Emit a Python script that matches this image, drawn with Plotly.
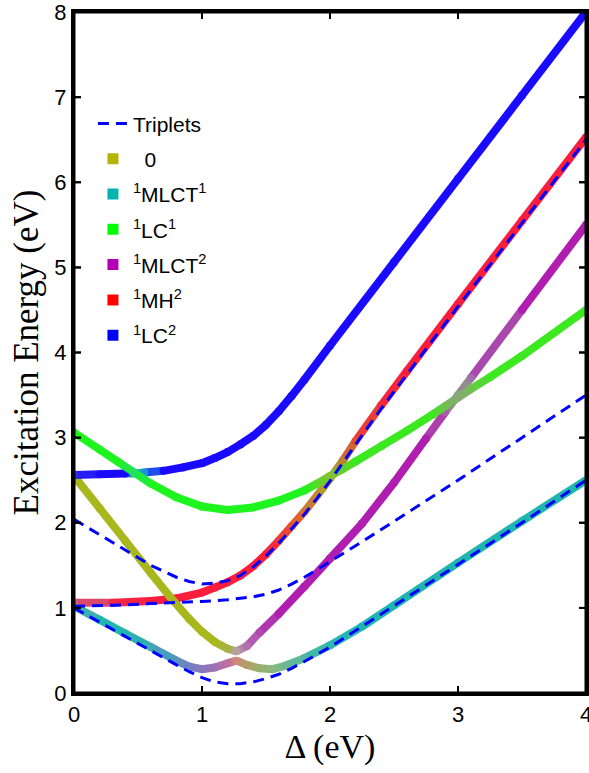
import plotly.graph_objects as go

# ---------------- DATA ----------------
# Singlet adiabatic curves (x = Delta in eV, y = excitation energy in eV)
s1_x = [0, 0.2, 0.4, 0.6, 0.8, 0.9, 1.0, 1.1, 1.2, 1.27, 1.35, 1.45, 1.55, 1.65, 1.8, 2.0, 2.25, 2.5, 3.0, 3.5, 4.0]
s1_y = [1.02, 0.86, 0.70, 0.54, 0.38, 0.31, 0.28, 0.30, 0.35, 0.38, 0.33, 0.29, 0.28, 0.32, 0.41, 0.56, 0.78, 1.03, 1.53, 2.02, 2.50]

s2_x = [0, 0.2, 0.4, 0.6, 0.75, 0.9, 1.0, 1.1, 1.2, 1.27, 1.35, 1.45, 1.6, 1.8, 2.0, 2.25, 2.5, 2.75, 2.9, 3.0, 3.1, 3.5, 4.0]
s2_y = [2.55, 2.17, 1.79, 1.41, 1.13, 0.87, 0.72, 0.60, 0.52, 0.49, 0.55, 0.71, 0.93, 1.25, 1.58, 1.99, 2.47, 2.99, 3.30, 3.50, 3.70, 4.50, 5.50]

s3_x = [0, 0.3, 0.6, 0.8, 1.0, 1.1, 1.2, 1.3, 1.4, 1.5, 1.6, 1.7, 1.8, 1.9, 2.0, 2.1, 2.2, 2.4, 2.6, 3.0, 3.5, 4.0]
s3_y = [1.06, 1.06, 1.08, 1.11, 1.18, 1.24, 1.30, 1.38, 1.49, 1.63, 1.79, 1.96, 2.13, 2.32, 2.52, 2.73, 2.96, 3.38, 3.78, 4.57, 5.55, 6.53]

s4_x = [0, 0.2, 0.35, 0.47, 0.6, 0.8, 1.0, 1.2, 1.4, 1.6, 1.8, 1.9, 2.0, 2.1, 2.2, 2.4, 2.6, 2.8, 2.9, 3.0, 3.1, 3.25, 3.5, 4.0]
s4_y = [3.06, 2.86, 2.71, 2.59, 2.46, 2.30, 2.19, 2.15, 2.18, 2.26, 2.38, 2.46, 2.55, 2.63, 2.72, 2.90, 3.08, 3.27, 3.37, 3.47, 3.57, 3.71, 3.96, 4.50]

s5_x = [0, 0.2, 0.4, 0.47, 0.55, 0.7, 0.85, 1.0, 1.1, 1.2, 1.3, 1.4, 1.5, 1.6, 1.7, 1.8, 2.0, 2.5, 3.0, 3.5, 4.0]
s5_y = [2.56, 2.57, 2.58, 2.58, 2.59, 2.61, 2.65, 2.70, 2.76, 2.83, 2.92, 3.02, 3.15, 3.31, 3.49, 3.68, 4.08, 5.06, 6.04, 7.02, 8.00]

# Triplet curves
t1_x = [0, 0.2, 0.4, 0.6, 0.8, 0.9, 1.0, 1.1, 1.2, 1.3, 1.4, 1.5, 1.6, 1.7, 1.8, 2.0, 2.5, 3.0, 3.5, 4.0]
t1_y = [1.00, 0.83, 0.66, 0.49, 0.33, 0.25, 0.18, 0.13, 0.11, 0.11, 0.13, 0.17, 0.22, 0.29, 0.37, 0.54, 1.02, 1.51, 2.00, 2.50]

t2_x = [0, 0.2, 0.4, 0.6, 0.8, 0.9, 1.0, 1.1, 1.2, 1.3, 1.4, 1.5, 1.6, 1.7, 1.8, 1.9, 2.0, 2.2, 2.4, 2.6, 3.0, 3.5, 4.0]
t2_y = [2.04, 1.86, 1.68, 1.50, 1.36, 1.31, 1.28, 1.29, 1.32, 1.38, 1.48, 1.61, 1.76, 1.93, 2.10, 2.29, 2.49, 2.92, 3.34, 3.74, 4.54, 5.52, 6.50]

t3_x = [0, 0.3, 0.6, 0.8, 1.0, 1.2, 1.4, 1.5, 1.6, 1.7, 1.8, 1.9, 2.0, 2.2, 2.4, 2.6, 2.8, 3.0, 3.5, 4.0]
t3_y = [1.02, 1.03, 1.05, 1.06, 1.075, 1.095, 1.13, 1.16, 1.21, 1.28, 1.36, 1.45, 1.54, 1.73, 1.92, 2.11, 2.30, 2.50, 3.00, 3.50]

# Legend entries (character of the states)
state_names = ["\u00a0\u00a00", "<sup>1</sup>MLCT<sup>1</sup>", "<sup>1</sup>LC<sup>1</sup>",
               "<sup>1</sup>MLCT<sup>2</sup>", "<sup>1</sup>MH<sup>2</sup>", "<sup>1</sup>LC<sup>2</sup>"]
triplet_name = "Triplets"

x_range = [0, 4]
y_range = [0, 8]
x_ticks = [0, 1, 2, 3, 4]
y_ticks = [0, 1, 2, 3, 4, 5, 6, 7, 8]

# ---------------- STYLE ----------------
state_colors = ["#b4b400", "#00b4b4", "#00ff00", "#b400b4", "#ff0000", "#0000ff"]

TEAL = "#20b6b0"
OLIVE = "#a8b81c"
PURPLE = "#b01eb0"
RED = "#fa1e3c"
GREEN_L = "#1ef41e"
GREEN_R = "#3ce820"
BLUE = "#1a0aff"

s1_c = ["#58a8b0", TEAL, TEAL, "#3caab4", "#5890c0", "#7080c0", "#8878bc", "#a070b4", "#c070a0", "#d08878",
        "#b0a068", "#98b070", "#88b880", "#70b890", "#50b8a0", "#30b8b0", TEAL, TEAL, TEAL, TEAL, TEAL]
s2_c = [OLIVE, OLIVE, OLIVE, OLIVE, OLIVE, OLIVE, OLIVE, OLIVE, "#a8b048", "#b8a0a0", "#b070b0", "#b048b0",
        PURPLE, PURPLE, PURPLE, PURPLE, PURPLE, PURPLE, "#a860a8", "#8aa878", "#a070a8", PURPLE, PURPLE]
s3_c = ["#c86890", "#f02848", RED, RED, RED, RED, RED, RED, RED, RED, "#f03838", "#e85030", "#d87030",
        "#c08c30", "#a8a830", "#c08030", "#e05030", "#f52a3a", RED, RED, RED, RED]
s4_c = [GREEN_L, GREEN_L, GREEN_L, "#20e060", GREEN_L, GREEN_L, GREEN_L, GREEN_L, GREEN_L, GREEN_L, GREEN_L,
        "#58d828", "#88c030", "#60d028", GREEN_R, GREEN_R, GREEN_R, GREEN_R, "#70c050", "#8aa878", "#70c050",
        GREEN_R, GREEN_R, GREEN_R]
s5_c = ["#3030e8", BLUE, BLUE, "#20d880", "#2090e0", BLUE, BLUE, BLUE, BLUE, BLUE, BLUE, BLUE, BLUE, BLUE,
        BLUE, BLUE, BLUE, BLUE, BLUE, BLUE, BLUE]

W, H = 589, 773
M_L, M_R, M_T, M_B = 74, 3, 12, 80
STROKE_W = 8
FRAME_W = 3
TICK_LEN = 7  # px


def mix(c1, c2):
    a = [int(c1[i:i + 2], 16) for i in (1, 3, 5)]
    b = [int(c2[i:i + 2], 16) for i in (1, 3, 5)]
    return "#%02x%02x%02x" % tuple((p + q) // 2 for p, q in zip(a, b))


fig = go.Figure()


def add_stroke(xs, ys, cols):
    for i in range(len(xs) - 1):
        fig.add_trace(go.Scatter(x=xs[i:i + 2], y=ys[i:i + 2], mode="lines",
                                 line=dict(color=mix(cols[i], cols[i + 1]), width=STROKE_W),
                                 showlegend=False, hoverinfo="skip"))
    fig.add_trace(go.Scatter(x=xs, y=ys, mode="markers",
                             marker=dict(color=cols, size=STROKE_W, line=dict(width=0)),
                             showlegend=False, hoverinfo="skip"))


add_stroke(s1_x, s1_y, s1_c)
add_stroke(s3_x, s3_y, s3_c)
add_stroke(s2_x, s2_y, s2_c)
add_stroke(s5_x, s5_y, s5_c)
add_stroke(s4_x, s4_y, s4_c)

for k, (tx, ty) in enumerate([(t1_x, t1_y), (t2_x, t2_y), (t3_x, t3_y)]):
    fig.add_trace(go.Scatter(x=tx, y=ty, mode="lines", name=triplet_name,
                             line=dict(color="#0000ff", width=3, dash="11px,7px"),
                             showlegend=(k == 0), legendrank=1, legendgroup="trip",
                             hoverinfo="skip"))

for k, (nm, col) in enumerate(zip(state_names, state_colors)):
    fig.add_trace(go.Scatter(x=[None], y=[None], mode="markers", name=nm,
                             marker=dict(symbol="square", size=11, color=col),
                             legendrank=k + 2, legendgroup="g%d" % k))

# ---- box frame and inward ticks on all four sides (layout shapes tied to the axes) ----
line_style = dict(color="#000000", width=2)
shapes = [dict(type="rect", xref="paper", yref="paper", x0=0, x1=1, y0=0, y1=1,
               line=dict(color="#000000", width=FRAME_W), fillcolor="rgba(0,0,0,0)",
               opacity=1, layer="above")]
for v in x_ticks:
    for anchor, sgn in ((0, 1), (1, -1)):
        shapes.append(dict(type="line", xref="x", yref="paper", ysizemode="pixel", yanchor=anchor,
                           x0=v, x1=v, y0=0, y1=sgn * TICK_LEN, line=line_style,
                           opacity=1, layer="above"))
for v in y_ticks:
    for anchor, sgn in ((0, 1), (1, -1)):
        shapes.append(dict(type="line", yref="y", xref="paper", xsizemode="pixel", xanchor=anchor,
                           y0=v, y1=v, x0=0, x1=sgn * TICK_LEN, line=line_style,
                           opacity=1, layer="above"))

axis_common = dict(showline=True, linewidth=FRAME_W, linecolor="#000000", mirror="ticks",
                   ticks="inside", ticklen=TICK_LEN, tickwidth=2, tickcolor="#000000",
                   showgrid=False, zeroline=False, ticklabeloverflow="allow", automargin=False,
                   tickfont=dict(family="Liberation Sans, Arial", size=22, color="black"))

fig.update_layout(
    template="simple_white",
    width=W, height=H,
    margin=dict(l=M_L, r=M_R, t=M_T, b=M_B),
    paper_bgcolor="white", plot_bgcolor="white",
    shapes=shapes,
    xaxis=dict(range=x_range, tickvals=x_ticks,
               title=dict(text="\u0394 (eV)", font=dict(family="Liberation Serif, Times New Roman", size=34, color="black"),
                          standoff=8),
               **axis_common),
    yaxis=dict(range=y_range, tickvals=y_ticks,
               title=dict(text="Excitation Energy (eV)", font=dict(family="Liberation Serif, Times New Roman", size=35, color="black"),
                          standoff=6),
               **axis_common),
    legend=dict(x=0.037, y=0.866, xanchor="left", yanchor="top", bgcolor="rgba(0,0,0,0)",
                borderwidth=0, tracegroupgap=5,
                font=dict(family="Liberation Sans, Arial", size=21, color="black")),
    showlegend=True,
)

css_fix = (
    "document.body.style.margin='0';document.body.style.padding='0';"
    "var st=document.createElement('style');"
    "st.textContent='.js-plotly-plot .plotly .crisp{shape-rendering:auto !important;}';"
    "document.head.appendChild(st);"
)

fig.write_html("out.html", config={"displayModeBar": False, "staticPlot": True}, post_script=css_fix)
